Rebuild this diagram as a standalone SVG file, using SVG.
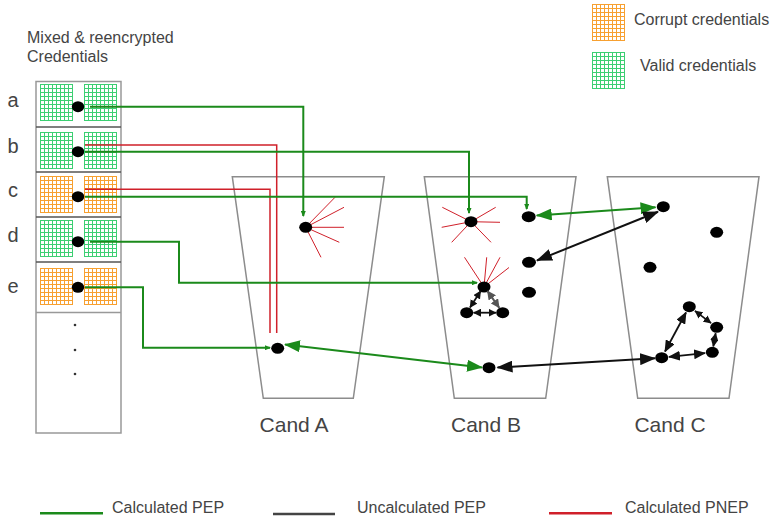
<svg xmlns="http://www.w3.org/2000/svg" width="779" height="520" viewBox="0 0 779 520">
<style>
text{font-family:"Liberation Sans",Arial,sans-serif;fill:#444}
.t16{font-size:16px}
.lbl{font-size:20px;text-anchor:middle}
.cand{font-size:21px;text-anchor:middle}
.bucket{fill:none;stroke:#8c8c8c;stroke-width:1.5}
.box{fill:#fff;stroke:#999;stroke-width:1.5}
.div{stroke:#555;stroke-width:1.5}
.dot{fill:#000}
.g{fill:none;stroke:#1b8a1b;stroke-width:2}
.r{fill:none;stroke:#d0202a;stroke-width:1.5}
.k{fill:none;stroke:#111;stroke-width:2}
.kg{fill:none;stroke:#555;stroke-width:2}
.ray{stroke:#d0202a;stroke-width:1}
.gv{fill:url(#pG)}
.gc{fill:url(#pO)}
</style>
<defs>
<pattern id="pG" patternUnits="userSpaceOnUse" x="0" y="0" width="4" height="4"><rect width="4" height="4" fill="#fff"/><path d="M0.5,0V4M0,0.5H4" stroke="#3ccf72" stroke-width="1" fill="none"/></pattern>
<pattern id="pO" patternUnits="userSpaceOnUse" x="0" y="0" width="4" height="4"><rect width="4" height="4" fill="#fff"/><path d="M0.5,0V4M0,0.5H4" stroke="#f7a030" stroke-width="1" fill="none"/></pattern>
<marker id="ag" viewBox="0 0 16 12" refX="15" refY="6" markerWidth="16" markerHeight="12" markerUnits="userSpaceOnUse" orient="auto-start-reverse"><path d="M0,0 L16,6 L0,12 z" fill="#1b8a1b"/></marker>
<marker id="ak" viewBox="0 0 16 12" refX="15" refY="6" markerWidth="16" markerHeight="12" markerUnits="userSpaceOnUse" orient="auto-start-reverse"><path d="M0,0 L16,6 L0,12 z" fill="#111"/></marker>
<marker id="akm" viewBox="0 0 12 10" refX="11" refY="5" markerWidth="12" markerHeight="10" markerUnits="userSpaceOnUse" orient="auto-start-reverse"><path d="M0,0 L12,5 L0,10 z" fill="#111"/></marker>
<marker id="aks" viewBox="0 0 8 8" refX="7.5" refY="4" markerWidth="8" markerHeight="8" markerUnits="userSpaceOnUse" orient="auto-start-reverse"><path d="M0,0 L8,4 L0,8 z" fill="#111"/></marker>
<marker id="aksg" viewBox="0 0 9 9" refX="8.5" refY="4.5" markerWidth="9" markerHeight="9" markerUnits="userSpaceOnUse" orient="auto-start-reverse"><path d="M0,0 L9,4.5 L0,9 z" fill="#555"/></marker>
<marker id="agt" viewBox="0 0 6 5" refX="5" refY="2.5" markerWidth="6" markerHeight="5" markerUnits="userSpaceOnUse" orient="auto"><path d="M0,0 L6,2.5 L0,5 z" fill="#1b8a1b"/></marker>
</defs>

<g id="title">
<text class="t16" x="27" y="43">Mixed &amp; reencrypted</text>
<text class="t16" x="27" y="62">Credentials</text>
</g>

<g id="legend-top">
<rect class="gc" x="592" y="4" width="33" height="37"/>
<text class="t16" x="634" y="25">Corrupt credentials</text>
<rect class="gv" x="592" y="52" width="33" height="37"/>
<text class="t16" x="640" y="71">Valid credentials</text>
</g>

<g id="credentials">
<rect class="box" x="36" y="81.5" width="85" height="351.5"/>
<line class="div" x1="36" y1="127" x2="121" y2="127"/>
<line class="div" x1="36" y1="172" x2="121" y2="172"/>
<line class="div" x1="36" y1="217" x2="121" y2="217"/>
<line class="div" x1="36" y1="262" x2="121" y2="262"/>
<line class="div" x1="36" y1="312.5" x2="121" y2="312.5" style="stroke:#999"/>
<g id="cred-a"><text class="lbl" x="13" y="107">a</text><rect class="gv" x="40" y="84" width="33" height="37"/><rect class="gv" x="84" y="84" width="33" height="37"/><ellipse class="dot" cx="78" cy="106.7" rx="6.2" ry="5.5"/></g>
<g id="cred-b"><text class="lbl" x="13" y="153">b</text><rect class="gv" x="40" y="132" width="33" height="37"/><rect class="gv" x="84" y="132" width="33" height="37"/><ellipse class="dot" cx="78" cy="151.7" rx="6.2" ry="5.5"/></g>
<g id="cred-c"><text class="lbl" x="13" y="197">c</text><rect class="gc" x="40" y="176" width="33" height="37"/><rect class="gc" x="84" y="176" width="33" height="37"/><ellipse class="dot" cx="78" cy="196.7" rx="6.2" ry="5.5"/></g>
<g id="cred-d"><text class="lbl" x="13" y="242">d</text><rect class="gv" x="40" y="220" width="33" height="37"/><rect class="gv" x="84" y="220" width="33" height="37"/><ellipse class="dot" cx="78" cy="241.7" rx="6.2" ry="5.5"/></g>
<g id="cred-e"><text class="lbl" x="13" y="293">e</text><rect class="gc" x="40" y="268" width="33" height="37"/><rect class="gc" x="84" y="268" width="33" height="37"/><ellipse class="dot" cx="78" cy="287.3" rx="6.2" ry="5.5"/></g>
<g id="cred-more"><circle cx="75" cy="325" r="1.3" fill="#333"/><circle cx="75" cy="350" r="1.3" fill="#333"/><circle cx="75" cy="374" r="1.3" fill="#333"/></g>
</g>

<g id="cand-a">
<path class="bucket" d="M232.3,176.7 H384.3 L353.3,398.3 H263.3 Z"/>
<text class="cand" x="294" y="432">Cand A</text>
<g id="a-star"><path class="ray" d="M305.7,227.3 L335,197.3 M305.7,227.3 L344,207.3 M305.7,227.3 L344,227.3 M305.7,227.3 L339.3,242.3 M305.7,227.3 L321,257.3"/><ellipse class="dot" cx="305.7" cy="227.3" rx="6.5" ry="5.5"/></g>
<ellipse id="a-low" class="dot" cx="277.7" cy="348.3" rx="6.5" ry="5.5"/>
</g>

<g id="cand-b">
<path class="bucket" d="M424.3,176.7 H576 L545.7,398.3 H454.3 Z"/>
<text class="cand" x="486" y="432">Cand B</text>
<g id="b-star1"><path class="ray" d="M471,221.7 L442.3,207.3 M471,221.7 L441.7,227.3 M471,221.7 L451.7,242.3 M471,221.7 L491,242.3 M471,221.7 L500,222.3 M471,221.7 L495.7,207.3"/><ellipse class="dot" cx="471" cy="221.7" rx="6.5" ry="5.5"/></g>
<g id="b-star2"><path class="ray" d="M484,287 L464.5,257.3 M484,287 L486.7,257.3 M484,287 L500,257.3 M484,287 L509,267.5"/><ellipse class="dot" cx="484" cy="287" rx="6.5" ry="5.5"/></g>
<ellipse class="dot" cx="528.7" cy="216.7" rx="7" ry="5.5"/>
<ellipse class="dot" cx="529" cy="262.3" rx="7" ry="5.5"/>
<ellipse class="dot" cx="529" cy="292.3" rx="7" ry="5.5"/>
<ellipse class="dot" cx="466.7" cy="312.7" rx="6.5" ry="5.5"/>
<ellipse class="dot" cx="502.7" cy="312.7" rx="6.5" ry="5.5"/>
<ellipse class="dot" cx="489" cy="367.7" rx="6.5" ry="5.5"/>
</g>

<g id="cand-c">
<path class="bucket" d="M607.3,176.7 H759 L729,398.3 H637.7 Z"/>
<text class="cand" x="670" y="432">Cand C</text>
<ellipse class="dot" cx="663.3" cy="206.7" rx="6.5" ry="5.5"/>
<ellipse class="dot" cx="716.7" cy="232.3" rx="6.5" ry="5.5"/>
<ellipse class="dot" cx="650" cy="267.3" rx="6.5" ry="5.5"/>
<ellipse class="dot" cx="689.3" cy="306.7" rx="6.5" ry="5.5"/>
<ellipse class="dot" cx="716.7" cy="327.3" rx="6.5" ry="5.5"/>
<ellipse class="dot" cx="712.3" cy="352.3" rx="6.5" ry="5.5"/>
<ellipse class="dot" cx="661.7" cy="357.7" rx="6.5" ry="5.5"/>
</g>

<g id="connectors">
<path class="r" d="M85,145 H276.7 V333"/>
<path class="r" d="M85,189.3 H270 V333"/>
<path class="g" d="M90,106.7 H303.3 V216" marker-end="url(#agt)"/>
<path class="g" d="M85,151.7 H469 V213" marker-end="url(#agt)"/>
<path class="g" d="M85,196.7 H526.7 V209" marker-end="url(#agt)"/>
<path class="g" d="M90,241.7 H179 V282.7 H477" marker-end="url(#agt)"/>
<path class="g" d="M85,287.3 H143 V347.7 H270" marker-end="url(#agt)"/>
<path class="g" d="M285,344.5 L482,367.5" marker-start="url(#ag)" marker-end="url(#ag)"/>
<path class="k" d="M497.5,367.5 L655,358.3" marker-start="url(#ak)" marker-end="url(#ak)"/>
<path class="g" d="M536.7,215.5 L655.5,207.3" marker-start="url(#ag)" marker-end="url(#ag)"/>
<path class="k" d="M537,260.5 L658,211.8" marker-start="url(#ak)" marker-end="url(#ak)"/>
<path class="k" style="stroke-width:1.8" d="M665,351.5 L686,312.5" marker-start="url(#akm)" marker-end="url(#akm)"/>
<path class="k" style="stroke-width:1.8" d="M705,353.1 L669,356.9" marker-start="url(#akm)" marker-end="url(#akm)"/>
<path class="k" style="stroke-width:1.8" d="M694.9,310.9 L711.1,323.1" marker-start="url(#aks)" marker-end="url(#aks)"/>
<path class="k" style="stroke-width:1.8" d="M715.7,333.2 L713.3,346.4" marker-start="url(#aks)" marker-end="url(#aks)"/>
<path class="k" style="stroke-width:1.8" d="M480.7,291 L470,307.6" marker-start="url(#aks)" marker-end="url(#aks)"/>
<path class="k" style="stroke-width:1.8" d="M473.5,312.7 L496,312.7" marker-start="url(#aks)" marker-end="url(#aks)"/>
<path class="kg" d="M487.4,291 L499.3,307.8" marker-start="url(#aksg)" marker-end="url(#aksg)"/>
</g>

<g id="legend-bottom">
<line x1="40" y1="513.3" x2="103" y2="513.3" stroke="#1b8a1b" stroke-width="2.5"/>
<text class="t16" x="112" y="513">Calculated PEP</text>
<line x1="273" y1="514" x2="335" y2="514" stroke="#444" stroke-width="2.5"/>
<text class="t16" x="357" y="513">Uncalculated PEP</text>
<line x1="549" y1="513.3" x2="612" y2="513.3" stroke="#d0202a" stroke-width="2.5"/>
<text class="t16" x="625" y="513">Calculated PNEP</text>
</g>
</svg>
